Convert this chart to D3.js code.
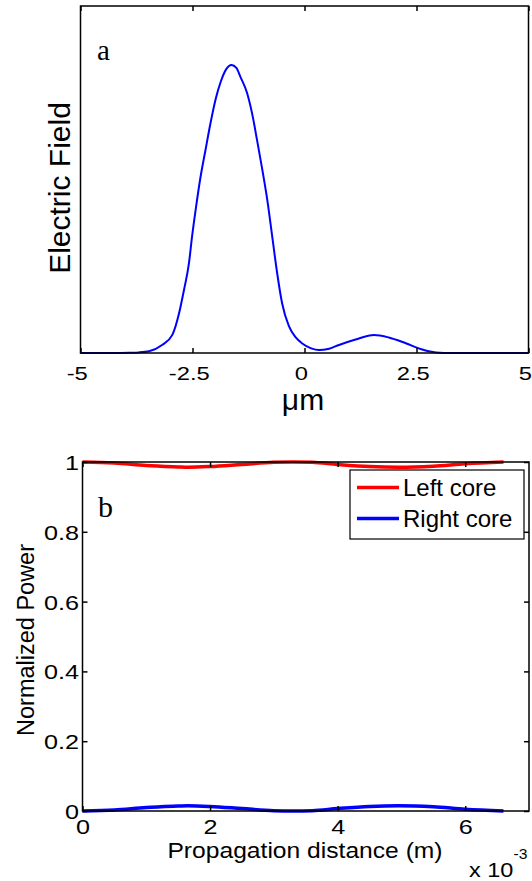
<!DOCTYPE html>
<html>
<head>
<meta charset="utf-8">
<script src="https://cdn.jsdelivr.net/npm/d3@7"></script>
<style>
  body { margin: 0; background: #fff; }
  svg { display: block; }
  text { font-family: Arial, "Liberation Sans", sans-serif; fill: #000; }
  .serif { font-family: "Times New Roman", "Liberation Serif", serif; }
</style>
</head>
<body>
<div id="chart"></div>
<script>
var width = 532, height = 881;

// panel a : field profile (normalised so the main peak is 1)
var fieldX = [-5, -4.3, -3.9, -3.7, -3.47, -3.18, -2.95, -2.8, -2.69, -2.58, -2.51, -2.43, -2.32, -2.21, -2.1, -1.98, -1.87, -1.75, -1.63,
  -1.52, -1.43, -1.28, -1.17, -1.06, -0.94, -0.83, -0.72, -0.61, -0.5, -0.35, -0.2, -0.05, 0.15, 0.32, 0.55, 0.77, 1.14, 1.55, 1.88, 2.26, 2.63, 2.93, 3.3, 5];
var fieldY = [0, 0, 0.001, 0.002, 0.006, 0.028, 0.063, 0.138, 0.219, 0.311, 0.404, 0.497, 0.612, 0.705, 0.797, 0.884, 0.942, 0.985, 1.0,
  0.99, 0.959, 0.902, 0.832, 0.74, 0.635, 0.531, 0.404, 0.277, 0.173, 0.094, 0.055, 0.033, 0.016, 0.01, 0.015, 0.028, 0.047, 0.0625, 0.054, 0.034, 0.012, 0.002, 0, 0];
var fieldTicks = [-5, -2.5, 0, 2.5, 5];

// panel b : power in each core vs propagation distance
var zDist = [0, 0.5e-3, 1.0e-3, 1.5e-3, 1.65e-3, 2.0e-3, 2.5e-3, 3.0e-3, 3.3e-3, 3.6e-3, 4.0e-3, 4.5e-3, 4.95e-3, 5.5e-3, 6.0e-3, 6.6e-3];
var leftCore = [1, 0.997, 0.99, 0.986, 0.985, 0.987, 0.993, 0.999, 1, 0.999, 0.993, 0.987, 0.985, 0.988, 0.995, 1];
var rightCore = [0, 0.003, 0.01, 0.014, 0.015, 0.013, 0.007, 0.001, 0, 0.001, 0.007, 0.013, 0.015, 0.012, 0.005, 0];
var powerXTicks = [0, 2e-3, 4e-3, 6e-3];
var powerYTicks = [0, 0.2, 0.4, 0.6, 0.8, 1];
var series = [
  {name: "Left core", color: "#ff0000", values: leftCore},
  {name: "Right core", color: "#0000ff", values: rightCore}
];

var svg = d3.select("#chart").append("svg")
  .attr("width", width)
  .attr("height", height);

// ---------- panel a ----------
var a = {left: 80.5, right: 528.5, top: 6, bottom: 353};
var xa = d3.scaleLinear().domain([-5, 5]).range([a.left, a.right]);
var ya = d3.scaleLinear().domain([0, 1.205]).range([a.bottom, a.top]);

var ga = svg.append("g");

ga.append("path")
  .datum(fieldX.map(function(d, i) { return [d, fieldY[i]]; }))
  .attr("fill", "none")
  .attr("stroke", "#0000ff")
  .attr("stroke-width", 2)
  .attr("d", d3.line()
    .x(function(d) { return xa(d[0]); })
    .y(function(d) { return ya(d[1]); })
    .curve(d3.curveMonotoneX));

ga.append("g")
  .attr("transform", "translate(0," + a.bottom + ")")
  .call(d3.axisBottom(xa).tickValues(fieldTicks).tickSize(-5).tickFormat(function(d) { return d == 0 ? "0" : String(d); }))
  .call(function(g) {
    g.select(".domain").remove();
    g.selectAll("line").attr("stroke", "#000").attr("stroke-width", 1.5);
    // matlab labels sit a touch left of their ticks
    g.selectAll("text").attr("font-size", 19).attr("y", 27).attr("dy", 0)
      .attr("x", -3)
      .attr("transform", "scale(1.25,1)");
  });
ga.append("g")
  .attr("transform", "translate(0," + a.top + ")")
  .call(d3.axisTop(xa).tickValues(fieldTicks).tickSize(-5).tickFormat(""))
  .call(function(g) {
    g.select(".domain").remove();
    g.selectAll("line").attr("stroke", "#000").attr("stroke-width", 1.5);
  });

ga.append("rect")
  .attr("x", a.left).attr("y", a.top)
  .attr("width", a.right - a.left).attr("height", a.bottom - a.top)
  .attr("fill", "none").attr("stroke", "#000").attr("stroke-width", 1.5);

ga.append("text")
  .attr("transform", "translate(69.5,188) rotate(-90)")
  .attr("text-anchor", "middle")
  .attr("font-size", 30)
  .text("Electric Field");

ga.append("text")
  .attr("x", 303).attr("y", 410)
  .attr("text-anchor", "middle")
  .attr("font-size", 30)
  .text("\u03bcm");

ga.append("text")
  .attr("class", "serif")
  .attr("x", 97).attr("y", 60)
  .attr("font-size", 29)
  .text("a");

// ---------- panel b ----------
var b = {left: 82.5, right: 529, top: 462, bottom: 811};
var xb = d3.scaleLinear().domain([0, 7e-3]).range([b.left, b.right]);
var yb = d3.scaleLinear().domain([0, 1]).range([b.bottom, b.top]);

var gb = svg.append("g");

var lineB = d3.line()
  .x(function(d) { return xb(d[0]); })
  .y(function(d) { return yb(d[1]); })
  .curve(d3.curveMonotoneX);

gb.selectAll(".series")
  .data(series).enter()
  .append("path")
  .attr("class", "series")
  .attr("fill", "none")
  .attr("stroke", function(d) { return d.color; })
  .attr("stroke-width", 3.5)
  .attr("d", function(d) { return lineB(zDist.map(function(z, i) { return [z, d.values[i]]; })); });

gb.append("g")
  .attr("transform", "translate(0," + b.bottom + ")")
  .call(d3.axisBottom(xb).tickValues(powerXTicks).tickSize(-5).tickFormat(function(d) { return Math.round(d * 1000); }))
  .call(function(g) {
    g.select(".domain").remove();
    g.selectAll("line").attr("stroke", "#000").attr("stroke-width", 1.5);
    g.selectAll("text").attr("font-size", 21).attr("y", 23).attr("dy", 0)
      .attr("transform", "scale(1.2,1)");
  });
gb.append("g")
  .attr("transform", "translate(0," + b.top + ")")
  .call(d3.axisTop(xb).tickValues(powerXTicks).tickSize(-5).tickFormat(""))
  .call(function(g) {
    g.select(".domain").remove();
    g.selectAll("line").attr("stroke", "#000").attr("stroke-width", 1.5);
  });
gb.append("g")
  .attr("transform", "translate(" + b.left + ",0)")
  .call(d3.axisLeft(yb).tickValues(powerYTicks).tickSize(-5).tickFormat(function(d) { return String(d); }))
  .call(function(g) {
    g.select(".domain").remove();
    g.selectAll("line").attr("stroke", "#000").attr("stroke-width", 1.5);
    g.selectAll("text").attr("font-size", 21).attr("x", -3).attr("dy", "0.36em")
      .attr("transform", "scale(1.2,1)");
  });
gb.append("g")
  .attr("transform", "translate(" + b.right + ",0)")
  .call(d3.axisRight(yb).tickValues(powerYTicks).tickSize(-5).tickFormat(""))
  .call(function(g) {
    g.select(".domain").remove();
    g.selectAll("line").attr("stroke", "#000").attr("stroke-width", 1.5);
  });

gb.append("rect")
  .attr("x", b.left).attr("y", b.top)
  .attr("width", b.right - b.left).attr("height", b.bottom - b.top)
  .attr("fill", "none").attr("stroke", "#000").attr("stroke-width", 1.5);

gb.append("text")
  .attr("transform", "translate(34,640) rotate(-90)")
  .attr("text-anchor", "middle")
  .attr("font-size", 23.5)
  .text("Normalized Power");

gb.append("text")
  .attr("transform", "translate(305,858) scale(1.12,1)")
  .attr("text-anchor", "middle")
  .attr("font-size", 22)
  .text("Propagation distance (m)");

var expo = gb.append("text")
  .attr("transform", "translate(469,877) scale(1.12,1)")
  .attr("font-size", 21);
expo.append("tspan").text("x 10");
expo.append("tspan").attr("font-size", 14).attr("dy", -18).text("-3");

gb.append("text")
  .attr("class", "serif")
  .attr("x", 98).attr("y", 517)
  .attr("font-size", 30)
  .text("b");

// legend
var legend = gb.append("g");
legend.append("rect")
  .attr("x", 350).attr("y", 470)
  .attr("width", 174).attr("height", 69)
  .attr("fill", "#fff").attr("stroke", "#000").attr("stroke-width", 1.2);

var item = legend.selectAll(".item")
  .data(series).enter()
  .append("g")
  .attr("class", "item")
  .attr("transform", function(d, i) { return "translate(0," + (i * 31) + ")"; });
item.append("line")
  .attr("x1", 357).attr("x2", 399)
  .attr("y1", 487.5).attr("y2", 487.5)
  .attr("stroke", function(d) { return d.color; })
  .attr("stroke-width", 3.5);
item.append("text")
  .attr("x", 403).attr("y", 496)
  .attr("font-size", 24)
  .text(function(d) { return d.name; });
</script>
</body>
</html>
